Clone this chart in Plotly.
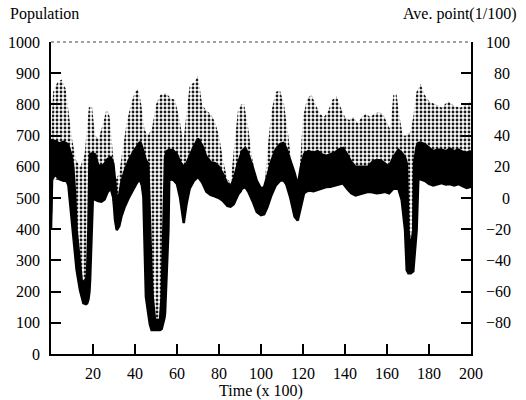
import plotly.graph_objects as go

# ---- data ----
# Population band (left axis): time (x100), lower and upper edge of the black trace
t_pop = [0, 0.5, 2, 4, 6, 7.5, 8.3, 9.6, 10.6, 11.4, 12.2, 13.8, 14.6, 15.4, 16.6, 17.2, 17.8, 18.3, 18.6, 19.4,
         19.9, 21, 22.5, 24, 25.5, 27, 28.5, 29.7, 30.5, 31.3, 32.5, 33.5, 35, 37, 39, 41, 42.4, 43.3, 44, 44.6,
         45.2, 46.3, 47.1, 47.9, 48.4, 49.5, 51.9, 52.7, 53.5, 54, 54.3, 55.1, 55.9, 56.3, 58, 60, 61.5, 63.2, 64.5, 66,
         68, 70, 72, 74, 76, 78, 80, 82, 84, 85.5, 87, 89, 91, 92.5, 94, 96, 98, 100, 101.5, 103,
         105, 107, 109, 110.6, 112, 114, 116, 117.5, 119, 120.5, 122.5, 125, 127, 129, 131, 133, 135, 137, 139, 141,
         143, 145, 147, 149, 151, 153, 155, 157, 159, 161, 163, 165.4, 167, 168.6, 169.4, 170.2, 171.3, 172.5, 172.9, 174.1,
         174.9, 176, 178, 180, 182, 184, 186, 188, 190, 192, 194, 196, 198, 200]
pop_lo = [400, 560, 575, 560, 555, 555, 540, 450, 397, 330, 270, 205, 185, 163, 160, 162, 175, 200, 237, 397,
          495, 495, 490, 488, 495, 520, 530, 500, 430, 397, 410, 440, 470, 500, 525, 550, 558, 540, 504, 340,
          184, 131, 95, 77, 77, 77, 77, 80, 100, 115, 131, 250, 397, 558, 560, 545, 500, 420, 480, 530,
          555, 568, 550, 520, 510, 505, 500, 490, 475, 472, 480, 510, 530, 536, 520, 490, 455, 445, 448, 470,
          510, 540, 555, 558, 545, 500, 440, 428, 470, 515, 525, 522, 526, 530, 535, 536, 540, 545, 547, 530,
          515, 508, 512, 518, 520, 518, 515, 517, 520, 515, 530, 530, 494, 397, 269, 259, 259, 265, 300, 397,
          560, 560, 555, 545, 540, 545, 548, 543, 545, 540, 545, 538, 532, 536]
pop_hi = [450, 685, 682, 675, 680, 675, 668, 640, 600, 520, 397, 290, 237, 232, 232, 260, 397, 611, 640, 643,
          643, 640, 605, 600, 610, 625, 630, 610, 560, 500, 510, 550, 585, 620, 645, 668, 680, 665, 650, 630,
          620, 611, 397, 250, 184, 109, 109, 184, 397, 611, 630, 650, 654, 654, 654, 640, 615, 600, 610, 635,
          665, 690, 668, 632, 615, 612, 600, 575, 545, 536, 560, 610, 650, 660, 640, 600, 555, 530, 535, 570,
          620, 655, 672, 676, 660, 620, 580, 540, 600, 640, 650, 645, 650, 640, 635, 640, 645, 655, 660, 640,
          615, 600, 600, 598, 600, 615, 622, 620, 610, 600, 630, 654, 645, 630, 611, 397, 335, 397, 611, 665,
          676, 678, 672, 660, 650, 655, 655, 650, 658, 650, 655, 648, 645, 650]

# Ave. point (1/100) cloud (right axis): upper edge of the dotted cloud
t_ave_hi = [0, 1, 3, 5, 7, 8.5, 10, 12, 14, 16, 17, 18, 19.5, 21, 22.5, 24, 26.5, 28, 29.5, 31,
            32.5, 34, 36, 38, 40, 41.5, 43, 44.5, 46, 48, 50, 52, 53.5, 55, 57, 59, 61, 63, 64.5, 66,
            68, 70, 72, 74, 76, 78, 80, 82, 84, 85.5, 87, 89, 90.5, 92, 94, 96, 98, 100,
            101.5, 103, 105, 107, 109, 111, 113, 115, 117, 118.5, 120, 122, 124, 126, 128, 130, 132, 134, 136, 138,
            140, 142, 144, 146, 148, 150, 152, 154, 156, 158, 160, 161.5, 163, 164.5, 166, 167.5, 169, 171, 172.5, 174,
            176, 178, 180, 183, 186, 189, 192, 195, 198, 200]
ave_hi = [40, 68, 74, 76, 70, 54, 38, 24, 20, 28, 44, 58, 59, 40, 38, 44, 57, 52, 28, 12,
          16, 30, 48, 60, 68, 70, 60, 44, 40, 44, 60, 66, 67, 67, 64, 63, 52, 36, 56, 72,
          74, 78, 60, 56, 54, 49, 40, 24, 12, 10, 30, 56, 60, 60, 44, 24, 12, 2,
          4, 30, 56, 68, 69, 60, 40, 16, 6, 20, 52, 64, 66, 60, 54, 52, 56, 63, 65, 58,
          52, 50, 52, 48, 52, 54, 52, 54, 55, 54, 48, 44, 66, 67, 52, 40, 40, 42, 52, 68,
          73, 66, 62, 60, 58, 62, 59, 58, 60, 62]
# lower edge of the dotted cloud (mostly hidden under the population band)
t_ave_lo = [0, 1, 6, 8.3, 9.6, 10.6, 11.4, 12.2, 13.8, 15.4, 16.6, 17.8, 18.6, 19.4, 19.9, 24, 28.5, 30.5, 31.3, 33.5,
            37, 42.4, 44, 44.6, 45.2, 46.3, 47.9, 52.7, 54.3, 55.1, 55.9, 56.3, 60, 63.2, 66, 70, 74, 80, 85.5, 92.5,
            98, 100, 103, 107, 110.6, 114, 117.5, 120.5, 129, 139, 145, 151, 165.4, 167, 168.6, 169.4, 170.2, 171.3, 172.5, 172.9,
            174.1, 174.9, 200]
ave_lo = [-20, 12, 11, 8, -10, -20, -34, -46, -59, -67, -68, -65, -53, -20, -1, -2, 6, -14, -20, -12,
          0, 12, 1, -32, -63, -74, -85, -84, -74, -50, -20, 12, 9, -16, 6, 14, 4, 0, -6, 7,
          -9, -11, -6, 8, 12, 0, -14, 3, 6, 9, 2, 4, 6, -1, -20, -46, -48, -48, -47, -40,
          -20, 12, 7]

# axis ticks
x_ticks = [20, 40, 60, 80, 100, 120, 140, 160, 180, 200]
pop_ticks = [0, 100, 200, 300, 400, 500, 600, 700, 800, 900, 1000]
ave_ticks = [-80, -60, -40, -20, 0, 20, 40, 60, 80, 100]
FS = "\u2007"  # figure space (digit width) so right-axis labels line up on the right
ave_ticktext = ["\u221280", "\u221260", "\u221240", "\u221220", FS + FS + "0",
                FS + "20", FS + "40", FS + "60", FS + "80", "100"]

FONT = "Liberation Serif"

fig = go.Figure()

# dotted cloud (base axis 'y' = Ave. point, drawn underneath)
fig.add_trace(go.Scatter(x=t_ave_lo, y=ave_lo, mode="lines", line=dict(width=0, color="black"),
                         yaxis="y", hoverinfo="skip", showlegend=False))
fig.add_trace(go.Scatter(x=t_ave_hi, y=ave_hi, mode="lines", line=dict(width=0, color="black"),
                         fill="tonexty", fillcolor="rgba(0,0,0,0)",
                         fillpattern=dict(shape=".", size=4, solidity=0.4,
                                          fgcolor="#1a1a1a", bgcolor="white", fillmode="replace"),
                         yaxis="y", showlegend=False))

# population band (overlay axis 'y2', drawn on top)
fig.add_trace(go.Scatter(x=t_pop, y=pop_lo, mode="lines", line=dict(width=2.5, color="black"),
                         yaxis="y2", showlegend=False))
fig.add_trace(go.Scatter(x=t_pop, y=pop_hi, mode="lines", line=dict(width=2.5, color="black"),
                         fill="tonexty", fillcolor="black", yaxis="y2", showlegend=False))

fig.update_layout(
    width=526, height=400,
    margin=dict(l=51, r=55, t=42, b=46),
    paper_bgcolor="white", plot_bgcolor="white",
    font=dict(family=FONT, size=16, color="black"),
    xaxis=dict(range=[0, 200], tickmode="array", tickvals=x_ticks, automargin=False,
               ticks="inside", ticklen=10, tickwidth=2, tickcolor="black",
               showline=True, linewidth=2, linecolor="black", showgrid=False, zeroline=False,
               ticklabelstandoff=4,
               title=dict(text="Time (x 100)", standoff=2, font=dict(family=FONT, size=16))),
    yaxis=dict(range=[-100, 100], side="right", tickmode="array", tickvals=ave_ticks, automargin=False,
               ticktext=ave_ticktext, ticks="inside", ticklen=10, tickwidth=1.5, tickcolor="black",
               showline=True, linewidth=1.5, linecolor="black", showgrid=False, zeroline=False,
               ticklabelstandoff=10),
    yaxis2=dict(range=[0, 1000], side="left", overlaying="y", tickmode="array", tickvals=pop_ticks,
                automargin=False, ticks="inside", ticklen=10, tickwidth=1.5, tickcolor="black",
                showline=True, linewidth=1.5, linecolor="black", showgrid=False, zeroline=False,
                ticklabelstandoff=6),
    shapes=[dict(type="line", xref="paper", yref="paper", x0=0, x1=1, y0=1, y1=1,
                 line=dict(color="#444444", width=1, dash="dot"))],
    annotations=[
        dict(text="Population", xref="paper", yref="paper", x=-0.102, y=1.09,
             xanchor="left", yanchor="middle", showarrow=False, font=dict(family=FONT, size=16)),
        dict(text="Ave. point(1/100)", xref="paper", yref="paper", x=1.112, y=1.09,
             xanchor="right", yanchor="middle", showarrow=False, font=dict(family=FONT, size=16)),
    ],
)

fig.write_html("out.html", config={"displayModeBar": False},
               post_script="document.body.style.margin='0px';")
